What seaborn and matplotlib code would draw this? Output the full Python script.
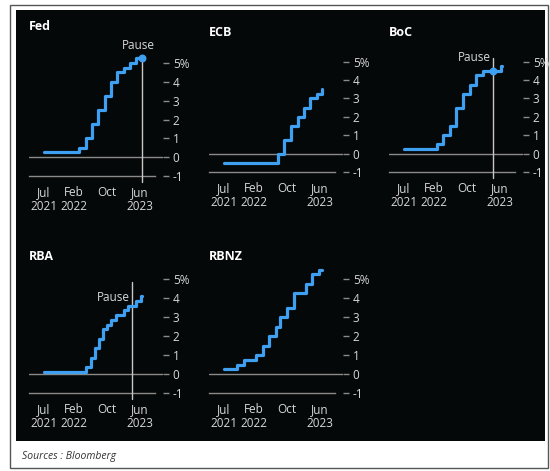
import pandas as pd
import numpy as np
import seaborn as sns
import matplotlib.pyplot as plt
import matplotlib.dates as mdates
from matplotlib.patches import Rectangle

# policy rates (%) by decision date
fed_dates = ["2021-07-01", "2022-03-17", "2022-05-05", "2022-06-16", "2022-07-28", "2022-09-22",
             "2022-11-03", "2022-12-15", "2023-02-02", "2023-03-23", "2023-05-04", "2023-06-14"]
fed_rates = [0.25, 0.5, 1.0, 1.75, 2.5, 3.25, 4.0, 4.5, 4.75, 5.0, 5.25, 5.25]

ecb_dates = ["2021-07-01", "2022-07-27", "2022-09-14", "2022-11-02", "2022-12-21", "2023-02-08",
             "2023-03-22", "2023-05-10", "2023-06-15"]
ecb_rates = [-0.5, 0.0, 0.75, 1.5, 2.0, 2.5, 3.0, 3.25, 3.5]

boc_dates = ["2021-07-01", "2022-03-02", "2022-04-13", "2022-06-01", "2022-07-13", "2022-09-07",
             "2022-10-26", "2022-12-07", "2023-01-25", "2023-06-07", "2023-06-18"]
boc_rates = [0.25, 0.5, 1.0, 1.5, 2.5, 3.25, 3.75, 4.25, 4.5, 4.75, 4.75]

rba_dates = ["2021-07-01", "2022-05-04", "2022-06-08", "2022-07-06", "2022-08-03", "2022-09-07",
             "2022-10-05", "2022-11-02", "2022-12-07", "2023-02-08", "2023-03-08", "2023-05-03",
             "2023-06-07", "2023-06-16"]
rba_rates = [0.1, 0.35, 0.85, 1.35, 1.85, 2.35, 2.6, 2.85, 3.1, 3.35, 3.6, 3.85, 4.1, 4.1]

rbnz_dates = ["2021-07-01", "2021-10-06", "2021-11-24", "2022-02-23", "2022-04-13", "2022-05-25",
              "2022-07-13", "2022-08-17", "2022-10-05", "2022-11-23", "2023-02-22", "2023-04-05",
              "2023-05-24", "2023-06-15"]
rbnz_rates = [0.25, 0.5, 0.75, 1.0, 1.5, 2.0, 2.5, 3.0, 3.5, 4.25, 4.75, 5.25, 5.5, 5.5]

banks = ["Fed", "ECB", "BoC", "RBA", "RBNZ"]
pause_dates = {"Fed": "2023-06-14", "BoC": "2023-04-12", "RBA": "2023-04-04"}
tick_dates = ["2021-07-01", "2022-02-01", "2022-10-01", "2023-06-01"]
tick_labels = ["Jul\n2021", "Feb\n2022", "Oct", "Jun\n2023"]
y_ticks = [-1, 0, 1, 2, 3, 4, 5]
y_labels = ["-1", "0", "1", "2", "3", "4", "5%"]

series = {
    "Fed": (fed_dates, fed_rates), "ECB": (ecb_dates, ecb_rates), "BoC": (boc_dates, boc_rates),
    "RBA": (rba_dates, rba_rates), "RBNZ": (rbnz_dates, rbnz_rates),
}

sns.set_style("dark")
plt.rcParams['font.family'] = ['Open Sans', 'DejaVu Sans']

W, H = 550, 471
fig = plt.figure(figsize=(W / 100, H / 100), dpi=100)
fig.patch.set_facecolor("white")


def fx(px):
    return px / W


def fy(py):
    return 1 - py / H


# outer frame and black panel (behind the axes)
fig.add_artist(Rectangle((fx(10), fy(468)), fx(538), 463 / H, transform=fig.transFigure,
                         facecolor="white", edgecolor="#555555", linewidth=1, zorder=-20))
fig.add_artist(Rectangle((fx(16), fy(441)), fx(529), 431 / H, transform=fig.transFigure,
                         facecolor="#050808", edgecolor="none", zorder=-10))

# axes boxes in pixels: left, top, bottom(-1 level), title y
layout = {
    "Fed": (29, 48, 176, 27), "ECB": (209, 47, 172, 33), "BoC": (389, 47, 172, 33),
    "RBA": (29, 264, 393, 256), "RBNZ": (209, 264, 393, 256),
}
xmin, xmax = pd.Timestamp("2021-03-14"), pd.Timestamp("2023-11-16")
grey = "#8a8a8a"
txt = "#d8d8d8"
blue = "#3f9ff0"

for bank in banks:
    left, top, bottom, title_y = layout[bank]
    ax = fig.add_axes([fx(left), fy(bottom), fx(134), (bottom - top) / H])
    ax.set_facecolor("none")
    dates, rates = series[bank]
    df = pd.DataFrame({"date": pd.to_datetime(dates), "rate": rates})
    sns.lineplot(data=df, x="date", y="rate", ax=ax, color=blue, linewidth=2.3,
                 drawstyle="steps-post", zorder=4)
    ax.axhline(0, color=grey, linewidth=1, zorder=2)
    ax.set_xlim(xmin, xmax)
    ax.set_ylim(-1, 5.8)
    ax.grid(False)
    for s in ["top", "left", "right"]:
        ax.spines[s].set_visible(False)
    ax.spines["bottom"].set_color(grey)
    ax.spines["bottom"].set_linewidth(1)
    ax.spines["bottom"].set_bounds(mdates.date2num(xmin), mdates.date2num(pd.Timestamp("2023-09-20")))
    ax.set_xticks(pd.to_datetime(tick_dates))
    ax.set_xticklabels(tick_labels)
    ax.tick_params(axis="x", colors=grey, labelcolor=txt, direction="inout", length=5,
                   width=1, labelsize=8.5, pad=5)
    ax.yaxis.tick_right()
    ax.set_yticks(y_ticks)
    ax.set_yticklabels(y_labels)
    ax.tick_params(axis="y", colors=grey, labelcolor=txt, length=4, width=1, labelsize=8.5, pad=3)
    for lab in ax.get_xticklabels():
        lab.set_linespacing(1.1)
    ax.set_xlabel("")
    ax.set_ylabel("")
    fig.text(fx(left), fy(title_y), bank, color="white", fontsize=9, fontweight="bold",
             va="center", ha="left")

    if bank in pause_dates:
        pd_x = pd.Timestamp(pause_dates[bank])
        if bank == "Fed":
            ax.plot([pd_x, pd_x], [-1.3, 5.25], color="#c8c8c8", linewidth=1, clip_on=False, zorder=3)
            ax.scatter([pd_x], [5.25], color=blue, s=22, zorder=5)
            ax.text(pd_x - pd.Timedelta(days=25), 5.6, "Pause", color=txt, fontsize=8.5,
                    ha="center", va="bottom")
        elif bank == "BoC":
            ax.plot([pd_x, pd_x], [-1.3, 5.2], color="#c8c8c8", linewidth=1, clip_on=False, zorder=3)
            ax.scatter([pd_x], [4.5], color=blue, s=22, zorder=5)
            ax.text(pd_x - pd.Timedelta(days=15), 4.85, "Pause", color=txt, fontsize=8.5,
                    ha="right", va="bottom")
        else:
            ax.plot([pd_x, pd_x], [-1.3, 4.85], color="#c8c8c8", linewidth=1, clip_on=False, zorder=3)
            ax.text(pd_x - pd.Timedelta(days=15), 3.7, "Pause", color=txt, fontsize=8.5,
                    ha="right", va="bottom")

fig.text(fx(22), fy(456), "Sources : Bloomberg", color="#333333", fontsize=7.5,
         style="italic", va="center", ha="left")

fig.savefig("out.png", dpi=100)
